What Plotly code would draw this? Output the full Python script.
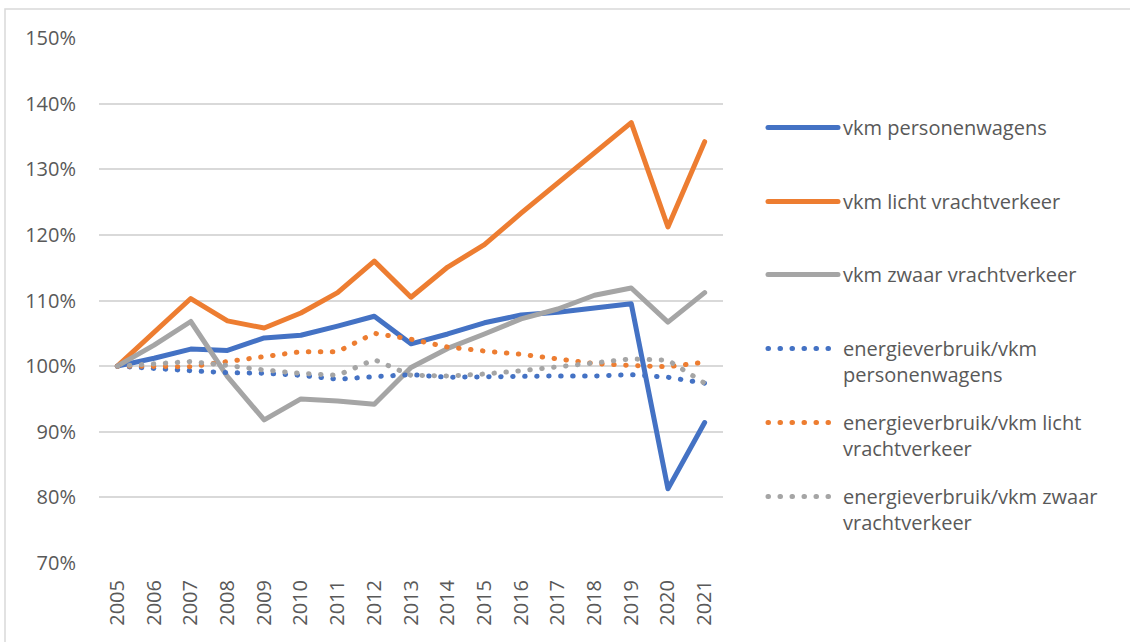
import plotly.graph_objects as go

years = [str(y) for y in range(2005, 2022)]

vkm_personenwagens = [100.0, 101.2, 102.6, 102.4, 104.3, 104.7, 106.1, 107.6, 103.4, 104.9, 106.6, 107.8, 108.2, 108.9, 109.5, 81.3, 91.4]
vkm_licht = [100.0, 105.2, 110.3, 106.9, 105.8, 108.1, 111.2, 116.0, 110.5, 115.1, 118.5, 123.3, 127.9, 132.4, 137.1, 121.2, 134.2]
vkm_zwaar = [100.0, 103.2, 106.8, 98.4, 91.8, 95.0, 94.7, 94.2, 99.8, 102.7, 104.9, 107.2, 108.7, 110.8, 111.9, 106.7, 111.2]
ev_personenwagens = [100.0, 99.6, 99.3, 99.0, 98.9, 98.6, 98.0, 98.4, 98.7, 98.3, 98.4, 98.5, 98.5, 98.5, 98.7, 98.3, 97.4]
ev_licht = [100.0, 100.0, 99.9, 100.7, 101.5, 102.2, 102.2, 105.0, 104.1, 102.9, 102.3, 101.8, 101.1, 100.4, 100.1, 99.9, 100.6]
ev_zwaar = [100.0, 100.3, 100.7, 100.1, 99.4, 98.9, 98.6, 101.0, 98.6, 98.5, 98.8, 99.3, 99.9, 100.6, 101.1, 100.9, 97.4]

names = ["vkm personenwagens", "vkm licht vrachtverkeer", "vkm zwaar vrachtverkeer",
         "energieverbruik/vkm<br>personenwagens", "energieverbruik/vkm licht<br>vrachtverkeer",
         "energieverbruik/vkm zwaar<br>vrachtverkeer"]
series = [vkm_personenwagens, vkm_licht, vkm_zwaar, ev_personenwagens, ev_licht, ev_zwaar]
colors = ["#4472C4", "#ED7D31", "#A5A5A5", "#4472C4", "#ED7D31", "#A5A5A5"]
widths = [5, 5, 5, 5, 5, 5]
dashes = ["solid", "solid", "solid", "0.5px,11.5px", "0.5px,11.5px", "0.5px,11.5px"]

W, H = 1130, 642
L, R, T, B = 99, 407, 38, 79
PW, PH = W - L - R, H - T - B
FONT = "Open Sans"
TXT = "#595959"

def px_x(p):
    return (p - L) / PW

def px_y(p):
    return (H - B - p) / PH

fig = go.Figure()
legend_tops = [127, 201, 274, 348, 422, 496]
layout_legends = {}
for i, (nm, vals, c, w, d) in enumerate(zip(names, series, colors, widths, dashes)):
    lname = "legend" if i == 0 else f"legend{i+1}"
    fig.add_trace(go.Scatter(x=years, y=vals, name=nm, mode="lines",
                             line=dict(color=c, width=w, dash=d),
                             legend=lname, hoverinfo="skip"))
    layout_legends[lname] = dict(
        x=px_x(763), y=px_y(legend_tops[i] - 19), xanchor="left", yanchor="top",
        font=dict(family=FONT, size=20, color=TXT), bgcolor="rgba(0,0,0,0)",
        itemwidth=70, valign="top", borderwidth=0,
    )

fig.update_layout(
    width=W, height=H,
    margin=dict(l=L, r=R, t=T, b=B, pad=0),
    paper_bgcolor="white", plot_bgcolor="white",
    showlegend=True,
    font=dict(family=FONT, size=20, color=TXT),
    xaxis=dict(type="category", range=[-0.5, 16.5], tickangle=-90,
               showgrid=False, showline=False, ticks="", zeroline=False,
               tickfont=dict(family=FONT, size=20, color=TXT), ticklabelstandoff=12),
    yaxis=dict(range=[70, 150], dtick=10, tick0=70, ticksuffix="%",
               showgrid=True, gridcolor="#D9D9D9", gridwidth=1.5,
               zeroline=False, showline=False, ticks="",
               tickfont=dict(family=FONT, size=20, color=TXT), ticklabelstandoff=22),
    shapes=[dict(type="rect", xref="paper", yref="paper",
                 x0=px_x(5), x1=px_x(1140), y0=px_y(650), y1=px_y(9),
                 line=dict(color="#D9D9D9", width=1.5), fillcolor="rgba(0,0,0,0)", layer="below")],
    **layout_legends,
)

post = (
    "document.body.style.margin='0px';document.body.style.overflow='hidden';"
    "var s=document.createElement('style');"
    "s.textContent='.js-line{stroke-linecap:round !important;stroke-linejoin:round !important;}';"
    "document.head.appendChild(s);"
)
fig.write_html("out.html", post_script=post, config={"displayModeBar": False})
